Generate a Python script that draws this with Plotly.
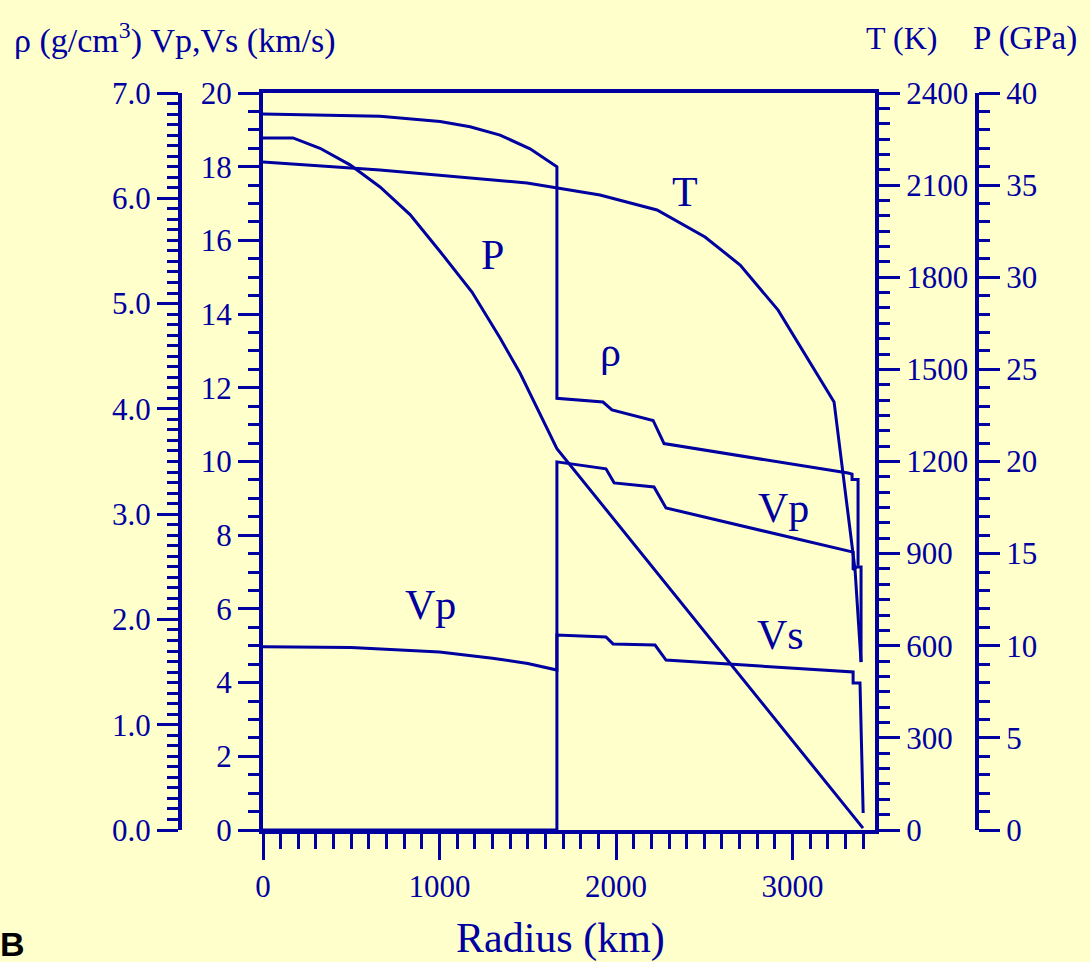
import plotly.graph_objects as go

BLUE = "#0000A0"
BG = "#FFFFCC"
SERIF = "Liberation Serif"

# ---- data (radius in km) ----
rho_r = [0, 663, 1003, 1173, 1343, 1513, 1665, 1665, 1926, 1977, 2210, 2272, 3314, 3337, 3337, 3371, 3371]
rho_v = [6.80, 6.78, 6.73, 6.68, 6.60, 6.47, 6.30, 4.10, 4.065, 3.99, 3.89, 3.67, 3.39, 3.38, 3.33, 3.33, 2.51]

vp_r = [0, 500, 1000, 1300, 1500, 1665, 1665, 1943, 1989, 2215, 2283, 3343, 3343, 3365, 3388, 3388]
vp_v = [4.97, 4.95, 4.83, 4.66, 4.52, 4.34, 9.99, 9.80, 9.42, 9.31, 8.74, 7.54, 7.06, 7.14, 7.14, 4.56]

vs_r = [0, 1665, 1665, 1943, 1983, 2221, 2283, 3343, 3343, 3382, 3400]
vs_v = [0, 0, 5.29, 5.24, 5.05, 5.02, 4.61, 4.29, 3.99, 3.99, 0.46]

t_r = [0, 663, 1496, 1666, 1909, 2232, 2504, 2703, 2918, 3235, 3354, 3388]
t_v = [2175, 2149, 2107, 2090, 2068, 2019, 1931, 1840, 1693, 1394, 847, 547]

p_r = [0, 170, 323, 493, 663, 833, 1003, 1184, 1343, 1456, 1665, 2646, 3399]
p_v = [37.56, 37.56, 37.0, 36.1, 34.9, 33.4, 31.4, 29.2, 26.7, 24.8, 20.7, 9.06, 0.1]

W, H = 1090, 962
def px(x): return x / W
def py(y): return 1 - y / H

line = dict(color=BLUE, width=3)
fig = go.Figure()
fig.add_trace(go.Scatter(x=vp_r, y=vp_v, mode="lines", line=line, yaxis="y"))
fig.add_trace(go.Scatter(x=vs_r, y=vs_v, mode="lines", line=line, yaxis="y"))
fig.add_trace(go.Scatter(x=rho_r, y=rho_v, mode="lines", line=line, yaxis="y2"))
fig.add_trace(go.Scatter(x=t_r, y=t_v, mode="lines", line=line, yaxis="y3"))
fig.add_trace(go.Scatter(x=p_r, y=p_v, mode="lines", line=line, yaxis="y4"))

tickfont = dict(family=SERIF, size=31, color=BLUE)
ydom = [py(830), py(93)]

def yax(rng, dtick, mdtick, side, **kw):
    d = dict(range=rng, domain=ydom, dtick=dtick, tick0=0, side=side,
             ticks="outside", ticklen=21, tickwidth=3, tickcolor=BLUE,
             showline=True, linewidth=4, linecolor=BLUE, automargin=False,
             showgrid=False, zeroline=False, tickfont=tickfont,
             minor=dict(dtick=mdtick, tick0=0, ticks="outside", ticklen=11,
                        tickwidth=3, tickcolor=BLUE, showgrid=False))
    d.update(kw)
    return d

fig.update_layout(
    width=W, height=H, paper_bgcolor=BG, plot_bgcolor=BG,
    margin=dict(l=0, r=0, t=0, b=0, pad=0, autoexpand=False), showlegend=False,
    xaxis=dict(domain=[px(263), px(875)], range=[0, 3467], anchor="y",
               dtick=1000, tick0=0, ticks="outside", ticklen=26, tickwidth=3,
               tickcolor=BLUE, showline=True, linewidth=4, linecolor=BLUE,
               mirror=True, showgrid=False, zeroline=False, tickfont=tickfont,
               automargin=False,
               minor=dict(dtick=100, tick0=0, ticks="outside", ticklen=15,
                          tickwidth=3, tickcolor=BLUE, showgrid=False)),
    yaxis=yax([0, 20], 2, 0.5, "left", anchor="x"),
    yaxis2=yax([0, 7], 1, 0.1, "left", anchor="free", position=px(180),
               overlaying="y", tickformat=".1f"),
    yaxis3=yax([0, 2400], 300, 50, "right", anchor="x", overlaying="y"),
    yaxis4=yax([0, 40], 5, 1, "right", anchor="free", position=px(977),
               overlaying="y"),
)

def ann(text, x, y, size, xanchor="center", family=SERIF, color=BLUE):
    fig.add_annotation(text=text, x=px(x), y=py(y), xref="paper", yref="paper",
                       xanchor=xanchor, yanchor="middle", showarrow=False,
                       font=dict(family=family, size=size, color=color))

ann("ρ (g/cm<sup>3</sup>) Vp,Vs (km/s)", 12, 38, 34, xanchor="left")
ann("T (K)", 864, 38, 32, xanchor="left")
ann("P (GPa)", 971, 38, 33, xanchor="left")
ann("Radius (km)", 560, 938, 42)
ann("T", 685, 192, 42)
ann("P", 492, 255, 42)
ann("ρ", 610, 352, 42)
ann("Vp", 783, 508, 42)
ann("Vp", 430, 605, 42)
ann("Vs", 780, 635, 42)
ann("<b>B</b>", -2, 944, 34, xanchor="left", family="Liberation Sans", color="black")

fig.write_html("out.html")
